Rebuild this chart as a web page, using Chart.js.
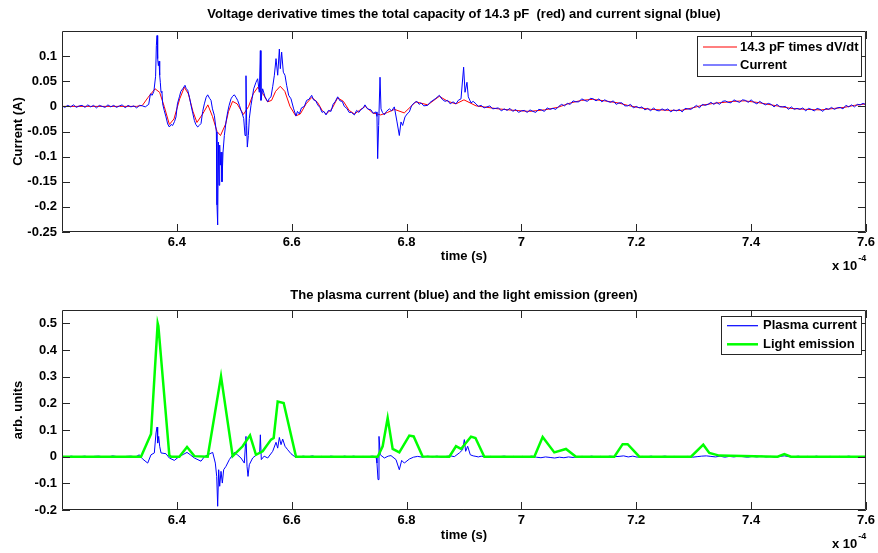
<!DOCTYPE html>
<html>
<head>
<meta charset="utf-8">
<script src="https://cdn.jsdelivr.net/npm/chart.js@4.4.1/dist/chart.umd.min.js"></script>
<style>
  html, body { margin: 0; padding: 0; background: #fff; }
  #wrap { position: relative; width: 878px; height: 553px; }
  canvas { position: absolute; left: 0; display: block; }
  #top { top: 0; }
  #bottom { top: 276px; }
</style>
</head>
<body>
<div id="wrap">
  <canvas id="top" width="878" height="276"></canvas>
  <canvas id="bottom" width="878" height="277"></canvas>
</div>
<script>
// time values are in units of 1e-4 s (axis shows "x 10^-4")

// ---- top plot: current signal (blue), split in three pieces ----
const currentEarlyT = [6.200,6.205,6.210,6.215,6.220,6.225,6.230,6.235,6.240,6.245,
  6.250,6.255,6.260,6.265,6.270,6.275,6.280,6.285,6.290,6.295,
  6.300,6.305,6.310,6.315,6.320,6.325,6.330,6.335,6.340,6.345];
const currentEarlyV = [0.001,-0.002,0.002,-0.001,0.003,-0.002,0.001,0.002,-0.002,0.003,
  -0.001,0.002,-0.003,0.002,0.000,-0.002,0.003,-0.001,0.002,-0.002,
  0.001,0.003,-0.003,0.002,-0.001,0.001,-0.003,0.002,0.001,-0.001];

const currentMidT = [6.351,6.354,6.357,6.360,6.363,6.3643,6.3655,6.3666,6.3678,6.369,
  6.3701,6.3712,6.3724,6.374,6.3753,6.378,6.3811,6.384,6.3869,6.390,
  6.3927,6.396,6.3985,6.401,6.4044,6.407,6.4102,6.4142,6.416,6.4189,
  6.422,6.4247,6.428,6.4305,6.433,6.4363,6.439,6.4421,6.445,6.4479,
  6.451,6.4537,6.457,6.4595,6.462,6.4653,6.4688,6.4699,6.4711,6.4723,
  6.4734,6.4746,6.4757,6.4769,6.4786,6.4804,6.4827,6.4856,6.4885,6.491,
  6.4943,6.497,6.5001,6.503,6.5059,6.509,6.5117,6.514,6.5164,6.5187,
  6.5204,6.5216,6.5227,6.5245,6.5262,6.5291,6.531,6.5338,6.5378,6.5407,
  6.5436,6.5454,6.5465,6.5494,6.5535,6.5582,6.561,6.564,6.567,6.5698,
  6.5727,6.5756,6.5785,6.5802,6.5825,6.5854,6.5883,6.5912,6.5947,6.5988,
  6.6034,6.6075,6.610,6.6133,6.617,6.622,6.626,6.630,6.6348,6.638,
  6.642,6.6452,6.649,6.653,6.656,6.6597,6.664,6.6684,6.672,6.676,
  6.6801,6.684,6.688,6.6916,6.696,6.700,6.704,6.7091,6.713,6.717,
  6.7207,6.724,6.7276,6.732,6.7381,6.742,6.7468,6.7485,6.7497,6.7514,
  6.7538,6.7555,6.758,6.7613,6.765,6.770,6.774,6.7787,6.7834,6.7874,
  6.7903,6.7932,6.7973,6.801,6.8048,6.809,6.8135,6.818,6.822,6.8251,
  6.830,6.8367,6.841,6.846,6.851,6.8571,6.862,6.867,6.8716,6.876,
  6.881,6.8861,6.890,6.8948,6.8994,6.9018,6.9052,6.9075,6.9122,6.916,
  6.9209,6.925];
const currentMidV = [0.004,0.025,0.022,0.030,0.060,0.121,0.141,0.095,0.081,0.090,
  0.062,0.048,0.028,0.030,0.005,-0.008,-0.021,-0.035,-0.041,-0.036,
  -0.038,-0.030,-0.021,0.005,0.019,0.030,0.035,0.042,0.036,0.032,
  0.018,0.002,-0.015,-0.028,-0.036,-0.041,-0.038,-0.034,-0.010,0.005,
  0.018,0.023,0.016,0.012,-0.005,-0.018,-0.051,-0.196,-0.236,-0.071,
  -0.157,-0.077,-0.117,-0.091,-0.150,-0.091,-0.058,-0.031,-0.011,0.002,
  0.015,0.020,0.023,0.018,0.012,0.002,-0.008,-0.015,-0.024,-0.058,
  0.061,-0.038,-0.081,-0.058,-0.024,0.002,0.015,0.035,0.048,0.055,
  0.028,0.111,0.012,0.035,0.019,0.009,0.016,0.019,0.040,0.062,
  0.095,0.062,0.114,0.075,0.108,0.068,0.062,0.042,0.022,0.015,
  -0.005,-0.019,-0.010,-0.015,-0.003,0.000,0.012,0.014,0.022,0.013,
  0.011,0.003,-0.002,-0.012,-0.010,-0.017,-0.008,-0.010,0.004,0.010,
  0.019,0.011,0.010,0.000,-0.004,-0.012,-0.012,-0.017,-0.008,-0.012,
  -0.006,-0.004,0.003,-0.005,-0.007,-0.014,-0.011,-0.020,-0.104,-0.038,
  0.058,-0.005,-0.012,-0.017,-0.010,-0.005,-0.009,-0.001,-0.031,-0.058,
  -0.031,-0.038,-0.021,-0.015,-0.011,0.002,0.007,0.010,0.004,0.007,
  0.001,0.002,0.008,0.012,0.016,0.022,0.014,0.010,0.012,0.005,
  0.009,0.005,0.012,0.015,0.078,0.028,0.048,0.019,0.007,0.010,
  0.005,0.000];

const currentLateT = [6.930,6.935,6.940,6.945,6.950,6.955,6.960,6.965,6.970,6.975,
  6.980,6.985,6.990,6.995,7.000,7.005,7.010,7.015,7.020,7.025,
  7.030,7.035,7.040,7.045,7.050,7.055,7.060,7.065,7.070,7.075,
  7.080,7.085,7.090,7.095,7.100,7.105,7.110,7.115,7.120,7.125,
  7.130,7.135,7.140,7.145,7.150,7.155,7.160,7.165,7.170,7.175,
  7.180,7.185,7.190,7.195,7.200,7.205,7.210,7.215,7.220,7.225,
  7.230,7.235,7.240,7.245,7.250,7.255,7.260,7.265,7.270,7.275,
  7.280,7.285,7.290,7.295,7.300,7.305,7.310,7.315,7.320,7.325,
  7.330,7.335,7.340,7.345,7.350,7.355,7.360,7.365,7.370,7.375,
  7.380,7.385,7.390,7.395,7.400,7.405,7.410,7.415,7.420,7.425,
  7.430,7.435,7.440,7.445,7.450,7.455,7.460,7.465,7.470,7.475,
  7.480,7.485,7.490,7.495,7.500,7.505,7.510,7.515,7.520,7.525,
  7.530,7.535,7.540,7.545,7.550,7.555,7.560,7.565,7.570,7.575,
  7.580,7.585,7.590,7.595,7.600];
const currentLateV = [0.002,-0.003,-0.001,0.001,-0.005,-0.004,-0.003,-0.009,-0.005,-0.008,
  -0.004,-0.010,-0.006,-0.012,-0.009,-0.008,-0.012,-0.007,-0.010,-0.012,
  -0.006,-0.007,-0.010,-0.003,-0.006,-0.004,-0.006,0.000,0.004,0.001,
  0.006,0.004,0.011,0.009,0.009,0.015,0.012,0.010,0.016,0.015,
  0.011,0.015,0.009,0.013,0.010,0.008,0.011,0.004,0.007,0.007,
  0.001,0.001,0.004,-0.003,0.000,-0.003,-0.001,-0.007,-0.004,-0.009,
  -0.003,-0.008,-0.009,-0.005,-0.008,-0.005,-0.011,-0.007,-0.009,-0.006,
  -0.011,-0.004,-0.005,-0.006,-0.002,0.002,-0.003,0.004,0.002,0.004,
  0.008,0.004,0.008,0.004,0.010,0.011,0.008,0.007,0.013,0.010,
  0.008,0.013,0.012,0.008,0.013,0.008,0.005,0.010,0.006,0.003,
  0.006,0.004,-0.001,0.004,-0.001,-0.001,0.000,-0.006,-0.001,-0.006,
  -0.004,-0.006,-0.003,-0.009,-0.004,-0.006,-0.009,-0.004,-0.006,-0.010,
  -0.004,-0.006,-0.002,-0.006,-0.003,-0.002,-0.005,0.002,-0.001,0.003,
  -0.001,0.004,0.003,0.006,0.003];

// ---- top plot: 14.3 pF times dV/dt (red) ----
const dvdtT = [6.200,6.250,6.300,6.330,6.340,6.350,6.362,6.370,6.378,6.387,
  6.395,6.405,6.413,6.420,6.428,6.435,6.445,6.454,6.462,6.470,
  6.476,6.485,6.490,6.497,6.505,6.516,6.525,6.533,6.541,6.550,
  6.558,6.565,6.572,6.580,6.588,6.597,6.607,6.615,6.625,6.635,
  6.645,6.653,6.660,6.670,6.680,6.690,6.700,6.709,6.718,6.728,
  6.741,6.755,6.767,6.779,6.796,6.816,6.837,6.857,6.872,6.886,
  6.900,6.921,6.960,6.988,7.014,7.040,7.063,7.086,7.105,7.124,
  7.145,7.168,7.185,7.202,7.225,7.243,7.260,7.278,7.298,7.318,
  7.335,7.353,7.370,7.388,7.410,7.435,7.450,7.469,7.495,7.522,
  7.545,7.562,7.580,7.600];
const dvdtV = [0,0,0,0,0.002,0.018,0.035,0.028,0.000,-0.036,
  -0.025,0.015,0.038,0.025,-0.010,-0.032,-0.015,0.003,-0.020,-0.050,
  -0.058,-0.035,-0.010,0.010,0.005,-0.016,0.000,0.025,0.038,0.025,
  0.009,0.012,0.030,0.040,0.030,0.000,-0.019,-0.015,0.005,0.018,
  0.008,-0.008,-0.015,-0.005,0.017,0.010,-0.008,-0.015,-0.008,0.000,
  -0.013,-0.017,-0.012,-0.006,-0.013,0.009,0.003,0.020,0.010,0.005,
  0.013,0.001,-0.005,-0.008,-0.010,-0.007,-0.002,0.007,0.012,0.014,
  0.011,0.007,0.002,-0.002,-0.006,-0.007,-0.008,-0.008,-0.003,0.003,
  0.006,0.008,0.010,0.011,0.008,0.003,0.000,-0.004,-0.006,-0.007,
  -0.004,-0.002,0.002,0.005];

// ---- bottom plot: plasma current (blue) ----
const plasmaEarlyT = [6.200,6.208,6.216,6.224,6.232,6.240,6.248,6.256,6.264,6.272,
  6.280,6.288,6.296,6.304,6.312,6.320,6.328];
const plasmaEarlyV = [0.001,-0.002,0.002,-0.001,0.000,0.002,-0.003,0.001,0.002,-0.001,
  -0.002,0.003,0.000,-0.002,0.001,0.002,-0.001];

const plasmaMidT = [6.3347,6.340,6.3492,6.355,6.3608,6.3637,6.3655,6.3666,6.3684,6.3701,
  6.3724,6.3811,6.3869,6.3956,6.4044,6.4110,6.4177,6.4240,6.4305,6.4421,
  6.4480,6.4537,6.4624,6.4670,6.4694,6.4711,6.4728,6.4746,6.4769,6.4792,
  6.4815,6.4856,6.4914,6.5001,6.5060,6.5117,6.5175,6.5204,6.5222,6.5239,
  6.5262,6.5320,6.5407,6.5442,6.5454,6.5471,6.5520,6.5582,6.5669,6.5727,
  6.5756,6.5785,6.5814,6.5843,6.5883,6.5930,6.5988,6.6046,6.6120,6.6200,
  6.6280,6.6360,6.6440,6.6520,6.6600,6.6680,6.6760,6.6840,6.6920,6.7000,
  6.7080,6.7160,6.7240,6.7320,6.7400,6.7468,6.7485,6.7503,6.7520,6.7543,
  6.7613,6.7680,6.7729,6.7816,6.7874,6.7915,6.7961,6.8048,6.8120,6.8193,
  6.8280,6.8367,6.8450,6.8530,6.8610,6.8690,6.8770,6.8832,6.8919,6.8977,
  6.9006,6.9029,6.9064,6.9110,6.9160,6.9209,6.9250];
const plasmaMidV = [0.007,-0.008,-0.024,0.007,0.014,0.089,0.111,0.051,0.076,0.039,
  0.014,0.011,-0.005,-0.014,0.001,0.008,0.016,0.006,-0.005,-0.017,
  0.000,0.007,0.016,-0.024,-0.074,-0.186,-0.049,-0.111,-0.055,-0.099,
  -0.049,-0.036,-0.011,0.016,0.006,-0.005,-0.024,0.076,-0.036,-0.074,
  -0.030,-0.005,0.011,0.014,0.082,-0.011,0.002,-0.005,0.020,0.054,
  0.032,0.072,0.045,0.066,0.039,0.026,0.011,0.001,-0.002,0.002,
  -0.001,0.003,-0.002,0.001,-0.003,0.002,0.000,-0.002,0.002,-0.001,
  0.002,-0.002,0.001,-0.001,0.002,0.000,-0.024,-0.086,0.076,0.007,
  -0.005,0.002,0.004,-0.011,-0.049,-0.014,-0.024,-0.009,-0.002,0.001,
  -0.002,0.002,-0.001,0.002,-0.002,0.001,0.003,0.000,0.014,0.026,
  0.064,0.020,0.039,0.007,0.003,0.001,-0.001];

const plasmaLateT = [6.930,6.938,6.946,6.954,6.962,6.970,6.978,6.986,6.994,7.002,
  7.010,7.018,7.026,7.034,7.042,7.050,7.058,7.066,7.074,7.082,
  7.090,7.098,7.106,7.114,7.122,7.130,7.138,7.146,7.154,7.162,
  7.170,7.178,7.186,7.194,7.202,7.210,7.218,7.226,7.234,7.242,
  7.250,7.258,7.266,7.274,7.282,7.290,7.298,7.306,7.314,7.322,
  7.330,7.338,7.346,7.354,7.362,7.370,7.378,7.386,7.394,7.402,
  7.410,7.418,7.426,7.434,7.442,7.450,7.458,7.466,7.474,7.482,
  7.490,7.498,7.506,7.514,7.522,7.530,7.538,7.546,7.554,7.562,
  7.570,7.578,7.586,7.594,7.600];
const plasmaLateV = [0.002,-0.001,0.001,-0.002,0.000,0.002,-0.001,0.001,-0.002,0.001,
  -0.001,0.002,-0.002,-0.004,-0.001,-0.003,-0.005,-0.002,-0.004,-0.001,
  -0.003,0.000,0.001,-0.002,0.002,-0.001,0.001,-0.002,0.002,0.000,
  0.001,0.003,-0.001,0.002,-0.002,0.001,-0.001,0.002,-0.002,0.000,
  0.002,-0.001,0.001,-0.002,-0.001,0.001,-0.002,0.000,0.002,0.003,
  0.001,-0.001,0.002,-0.002,0.001,-0.001,0.002,0.000,-0.002,0.001,
  -0.001,0.002,-0.001,0.001,-0.002,0.001,0.003,0.000,-0.001,0.002,
  -0.002,0.001,-0.001,0.002,-0.002,0.000,0.001,-0.002,0.001,-0.001,
  0.002,-0.001,0.000,-0.002,0.001];

// ---- bottom plot: light emission (green) ----
const lightT = [6.200,6.3376,6.355,6.3666,6.3678,6.3869,6.3898,6.4044,6.4177,6.4305,
  6.4537,6.4769,6.4972,6.5146,6.5274,6.5378,6.5494,6.5640,6.5686,6.5756,
  6.5860,6.6075,6.7497,6.7584,6.7671,6.7758,6.7874,6.8048,6.8124,6.8280,
  6.8745,6.8861,6.8948,6.9122,6.9200,6.9354,7.0225,7.0370,7.0573,7.0776,
  7.0950,7.1618,7.1763,7.1850,7.2053,7.2953,7.3167,7.3272,7.3446,7.4462,
  7.4578,7.4694,7.600];
const lightV = [0,0,0.085,0.500,0.490,0.005,0,0,0.036,0.002,
  0,0.301,0.002,0.039,0.080,0.007,0.020,0.064,0.070,0.207,
  0.201,0,0,0.039,0.145,0.029,0.016,0.079,0.076,0.001,
  0,0.039,0.029,0.075,0.070,0,0,0.074,0.016,0.029,
  0,0,0.047,0.047,0,0,0.045,0.014,0.004,0,
  0.010,0,0];

// ---- ticks ----
const xTicks = [6.4, 6.6, 6.8, 7.0, 7.2, 7.4, 7.6];
const topYTicks = [-0.25, -0.2, -0.15, -0.1, -0.05, 0, 0.05, 0.1];
const bottomYTicks = [-0.2, -0.1, 0, 0.1, 0.2, 0.3, 0.4, 0.5];

const FONT = '"Liberation Sans", Arial, Helvetica, sans-serif';
Chart.defaults.font.family = FONT;
Chart.defaults.font.size = 13;
Chart.defaults.font.weight = 'bold';
Chart.defaults.color = '#000';

const pts = (ts, vs) => ts.map((t, i) => ({ x: t, y: vs[i] }));

// matlab-like box, inward ticks on all sides, legend and exponent label
const matlabFrame = {
  id: 'matlabFrame',
  afterDatasetsDraw(chart) {
    const { ctx, chartArea: a } = chart;
    const sx = chart.scales.x, sy = chart.scales.y;
    const len = 8;
    ctx.save();
    ctx.strokeStyle = '#262626';
    ctx.lineWidth = 1;
    ctx.beginPath();
    ctx.rect(a.left + 0.5, a.top + 0.5, a.right - a.left - 1, a.bottom - a.top - 1);
    sx.ticks.forEach(t => {
      const px = Math.round(sx.getPixelForValue(t.value)) + 0.5;
      ctx.moveTo(px, a.bottom); ctx.lineTo(px, a.bottom - len);
      ctx.moveTo(px, a.top); ctx.lineTo(px, a.top + len);
    });
    sy.ticks.forEach(t => {
      const py = Math.round(sy.getPixelForValue(t.value)) + 0.5;
      ctx.moveTo(a.left, py); ctx.lineTo(a.left + len, py);
      ctx.moveTo(a.right, py); ctx.lineTo(a.right - len, py);
    });
    ctx.stroke();
    ctx.restore();
  },
  afterDraw(chart, args, opts) {
    const ctx = chart.ctx;
    const L = opts.legend;
    ctx.save();
    // legend box
    ctx.fillStyle = '#fff';
    ctx.fillRect(L.left, L.top, L.width, L.height);
    ctx.strokeStyle = '#262626';
    ctx.lineWidth = 1;
    ctx.strokeRect(L.left + 0.5, L.top + 0.5, L.width, L.height);
    ctx.font = 'bold 13px ' + FONT;
    ctx.textBaseline = 'middle';
    chart.data.datasets.forEach((ds, i) => {
      const yy = L.rows[i];
      ctx.beginPath();
      ctx.strokeStyle = ds.borderColor;
      ctx.lineWidth = Math.max(ds.borderWidth, 1.2);
      ctx.moveTo(L.lineX0, yy);
      ctx.lineTo(L.lineX1, yy);
      ctx.stroke();
      ctx.fillStyle = '#000';
      ctx.fillText(ds.label, L.textX, yy);
    });
    // x 10^-4
    const E = opts.expo;
    ctx.textBaseline = 'alphabetic';
    ctx.fillStyle = '#000';
    ctx.font = 'bold 13px ' + FONT;
    ctx.fillText('x 10', E.x, E.y);
    const w = ctx.measureText('x 10').width;
    ctx.font = 'bold 9px ' + FONT;
    ctx.fillText('-4', E.x + w + 1, E.supY);
    ctx.restore();
  }
};

function fmt(v) {
  return String(+v.toFixed(2));
}

function makeChart(id, datasets, o) {
  return new Chart(document.getElementById(id), {
    type: 'line',
    data: { datasets },
    options: {
      responsive: false,
      animation: false,
      events: [],
      layout: { padding: { left: 0, right: 12, top: 0, bottom: 0 } },
      elements: { point: { radius: 0 }, line: { tension: 0 } },
      plugins: {
        legend: { display: false },
        tooltip: { enabled: false },
        title: {
          display: true,
          fullSize: false,
          text: o.title,
          color: '#000',
          font: { size: 13, weight: 'bold' },
          padding: o.titlePad
        },
        matlabFrame: { legend: o.legend, expo: o.expo }
      },
      scales: {
        x: {
          type: 'linear',
          min: 6.2, max: 7.6,
          grid: { display: false, drawTicks: false },
          border: { display: false },
          afterBuildTicks: s => { s.ticks = xTicks.map(v => ({ value: v })); },
          afterFit: s => { s.height = o.xHeight; },
          ticks: { autoSkip: false, maxRotation: 0, padding: 3, callback: v => fmt(v) },
          title: { display: true, text: 'time (s)', padding: { top: 0, bottom: o.xTitlePad } }
        },
        y: {
          type: 'linear',
          min: o.yMin, max: o.yMax,
          grid: { display: false, drawTicks: false },
          border: { display: false },
          afterBuildTicks: s => { s.ticks = o.yTicks.map(v => ({ value: v })); },
          afterFit: s => { s.width = 62; },
          ticks: { autoSkip: false, padding: 5, callback: v => fmt(v) },
          title: { display: true, text: o.yTitle, padding: { top: 10.2, bottom: 0 } }
        }
      }
    },
    plugins: [matlabFrame]
  });
}

makeChart('top', [
  {
    label: '14.3 pF times dV/dt',
    data: pts(dvdtT, dvdtV),
    borderColor: '#ff0000', borderWidth: 1, order: 1
  },
  {
    label: 'Current',
    data: pts(currentEarlyT, currentEarlyV)
      .concat(pts(currentMidT, currentMidV), pts(currentLateT, currentLateV)),
    borderColor: '#0000ff', borderWidth: 1, order: 0
  }
], {
  title: 'Voltage derivative times the total capacity of 14.3 pF  (red) and current signal (blue)',
  titlePad: { top: 6.7, bottom: 8.7 },
  yMin: -0.25, yMax: 0.15, yTicks: topYTicks, yTitle: 'Current (A)',
  xHeight: 44, xTitlePad: 11.7,
  legend: { left: 697, top: 36, width: 164, height: 40, rows: [47, 65], lineX0: 703, lineX1: 737, textX: 740 },
  expo: { x: 832, y: 269.5, supY: 260.5 }
});

makeChart('bottom', [
  {
    label: 'Plasma current',
    data: pts(plasmaEarlyT, plasmaEarlyV)
      .concat(pts(plasmaMidT, plasmaMidV), pts(plasmaLateT, plasmaLateV)),
    borderColor: '#0000ff', borderWidth: 1, order: 1
  },
  {
    label: 'Light emission',
    data: pts(lightT, lightV),
    borderColor: '#00ff00', borderWidth: 2.5, order: 0
  }
], {
  title: 'The plasma current (blue) and the light emission (green)',
  titlePad: { top: 11.7, bottom: 6.7 },
  yMin: -0.2, yMax: 0.55, yTicks: bottomYTicks, yTitle: 'arb. units',
  xHeight: 43, xTitlePad: 10.2,
  legend: { left: 721, top: 40, width: 140, height: 38, rows: [49.7, 68.3], lineX0: 727, lineX1: 758, textX: 763 },
  expo: { x: 832, y: 271.5, supY: 262.5 }
});
</script>
</body>
</html>
